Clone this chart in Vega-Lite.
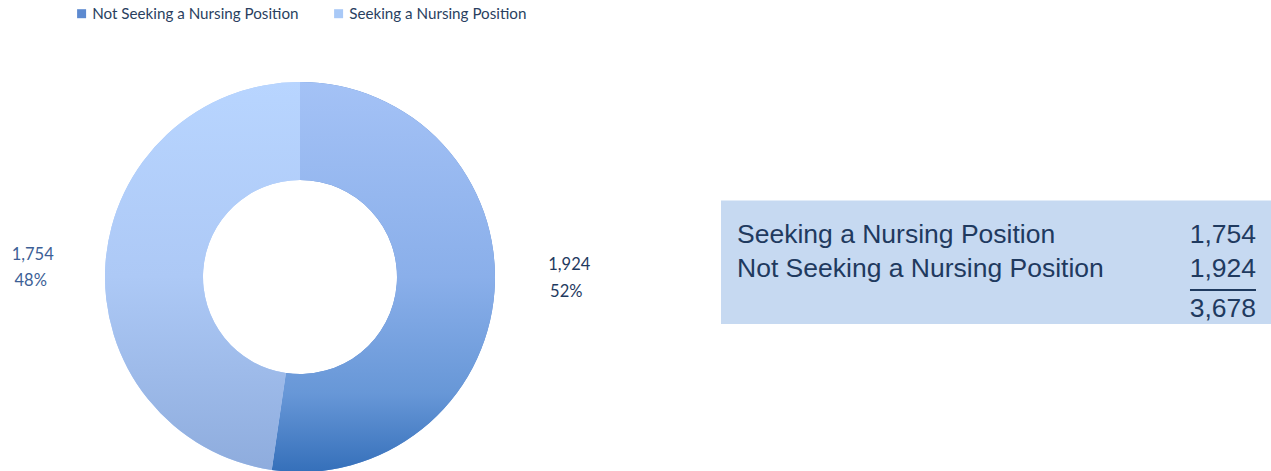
{
  "$schema": "https://vega.github.io/schema/vega-lite/v6.json",
  "padding": {"left": 0, "top": 6, "right": 0, "bottom": 0},
  "background": "white",
  "spacing": 121,
  "bounds": "flush",
  "config": {"view": {"stroke": null}},
  "hconcat": [
    {
      "width": 600,
      "height": 390,
      "data": {"values": [
        {"status": "Not Seeking a Nursing Position", "count": 1924, "share": 0.52},
        {"status": "Seeking a Nursing Position", "count": 1754, "share": 0.48}
      ]},
      "encoding": {
        "theta": {"field": "count", "type": "quantitative", "stack": true},
        "order": {"field": "status", "type": "nominal", "sort": "ascending"},
        "detail": {"field": "status", "type": "nominal"}
      },
      "layer": [
        {
          "mark": {"type": "arc", "outerRadius": 195, "innerRadius": 97, "strokeWidth": 0},
          "encoding": {
            "color": {
              "field": "status", "type": "nominal",
              "scale": {"domain": ["Not Seeking a Nursing Position", "Seeking a Nursing Position"], "range": ["#5D8AD0", "#A9C9F7"]},
              "legend": {"orient": "none", "legendX": 74, "legendY": -76, "direction": "horizontal", "title": null,
                "symbolType": "square", "symbolSize": 81, "symbolStrokeWidth": 0, "labelFont": "Lato", "labelFontSize": 15.2,
                "labelColor": "#2A3F5F", "columnPadding": 32, "labelOffset": 3, "labelLimit": 0, "padding": 0}
            }
          }
        },
        {
          "mark": {"type": "arc", "outerRadius": 195, "innerRadius": 97, "strokeWidth": 0,
            "fill": {"gradient": "linear", "x1": 0, "y1": 0, "x2": 0, "y2": 1,
              "stops": [{"offset": 0, "color": "#A4C2F6"}, {"offset": 0.5, "color": "#8AAFEA"}, {"offset": 0.8, "color": "#6797D7"}, {"offset": 1, "color": "#3570BA"}]}},
          "encoding": {
            "fillOpacity": {"condition": {"test": "datum.status === 'Seeking a Nursing Position'", "value": 0}, "value": 1}
          }
        },
        {
          "mark": {"type": "arc", "outerRadius": 195, "innerRadius": 97, "strokeWidth": 0,
            "fill": {"gradient": "linear", "x1": 0, "y1": 0, "x2": 0, "y2": 1,
              "stops": [{"offset": 0, "color": "#B8D5FF"}, {"offset": 0.5, "color": "#ADC9F6"}, {"offset": 1, "color": "#8EACDD"}]}},
          "encoding": {
            "fillOpacity": {"condition": {"test": "datum.status === 'Not Seeking a Nursing Position'", "value": 0}, "value": 1}
          }
        },
        {
          "mark": {"type": "text", "radius": 270, "font": "Lato", "fontSize": 16.5, "color": "#1F3A5F", "align": "center", "baseline": "middle", "dy": -32},
          "encoding": {
            "text": {"condition": {"test": "datum.status === 'Not Seeking a Nursing Position'", "field": "count", "type": "quantitative", "format": ","}, "value": ""}
          }
        },
        {
          "mark": {"type": "text", "radius": 270, "font": "Lato", "fontSize": 16.5, "color": "#1F3A5F", "align": "center", "baseline": "middle", "dy": -5, "dx": -3},
          "encoding": {
            "text": {"condition": {"test": "datum.status === 'Not Seeking a Nursing Position'", "field": "share", "type": "quantitative", "format": ".0%"}, "value": ""}
          }
        },
        {
          "mark": {"type": "text", "radius": 270, "font": "Lato", "fontSize": 16.5, "color": "#3D5F96", "align": "center", "baseline": "middle", "dy": -2, "dx": 2},
          "encoding": {
            "text": {"condition": {"test": "datum.status === 'Seeking a Nursing Position'", "field": "count", "type": "quantitative", "format": ","}, "value": ""}
          }
        },
        {
          "mark": {"type": "text", "radius": 270, "font": "Lato", "fontSize": 16.5, "color": "#3D5F96", "align": "center", "baseline": "middle", "dy": 24},
          "encoding": {
            "text": {"condition": {"test": "datum.status === 'Seeking a Nursing Position'", "field": "share", "type": "quantitative", "format": ".0%"}, "value": ""}
          }
        }
      ]
    },
    {
      "width": 550,
      "height": 390,
      "layer": [
        {
          "data": {"values": [{"box": "totals"}]},
          "mark": {"type": "rect", "fill": "#C6D9F1"},
          "encoding": {
            "x": {"datum": 0, "type": "quantitative", "scale": {"domain": [0, 1], "nice": false, "zero": false}, "axis": null},
            "x2": {"datum": 1},
            "y": {"datum": 0, "type": "quantitative", "scale": {"domain": [-3.435, 7.87], "nice": false, "zero": false, "reverse": true}, "axis": null},
            "y2": {"datum": 3.58}
          }
        },
        {
          "data": {"values": [
            {"label": "Seeking a Nursing Position", "value": 1754, "row": 1},
            {"label": "Not Seeking a Nursing Position", "value": 1924, "row": 2},
            {"label": "", "value": 3678, "row": 3}
          ]},
          "layer": [
            {
              "transform": [{"filter": "datum.row < 3"}],
              "mark": {"type": "text", "font": "Liberation Sans", "fontSize": 26.5, "color": "#1F3A5F", "align": "left", "baseline": "middle"},
              "encoding": {
                "x": {"datum": 0.0291, "type": "quantitative"},
                "y": {"field": "row", "type": "quantitative"},
                "text": {"field": "label"}
              }
            },
            {
              "transform": [{"filter": "datum.row < 3"}],
              "mark": {"type": "text", "font": "Liberation Sans", "fontSize": 26.5, "color": "#1F3A5F", "align": "right", "baseline": "middle"},
              "encoding": {
                "x": {"datum": 0.9727, "type": "quantitative"},
                "y": {"field": "row", "type": "quantitative"},
                "text": {"field": "value", "type": "quantitative", "format": ","}
              }
            },
            {
              "transform": [{"filter": "datum.row === 3"}],
              "mark": {"type": "text", "font": "Liberation Sans", "fontSize": 26.5, "color": "#1F3A5F", "align": "right", "baseline": "middle", "dy": 5.5},
              "encoding": {
                "x": {"datum": 0.9727, "type": "quantitative"},
                "y": {"field": "row", "type": "quantitative"},
                "text": {"field": "value", "type": "quantitative", "format": ","}
              }
            }
          ]
        },
        {
          "data": {"values": [{"rule": "underline"}]},
          "mark": {"type": "rule", "color": "#1F3A5F", "strokeWidth": 2},
          "encoding": {
            "x": {"datum": 0.8527, "type": "quantitative"},
            "x2": {"datum": 0.9727},
            "y": {"datum": 2.594, "type": "quantitative"}
          }
        }
      ]
    }
  ]
}
